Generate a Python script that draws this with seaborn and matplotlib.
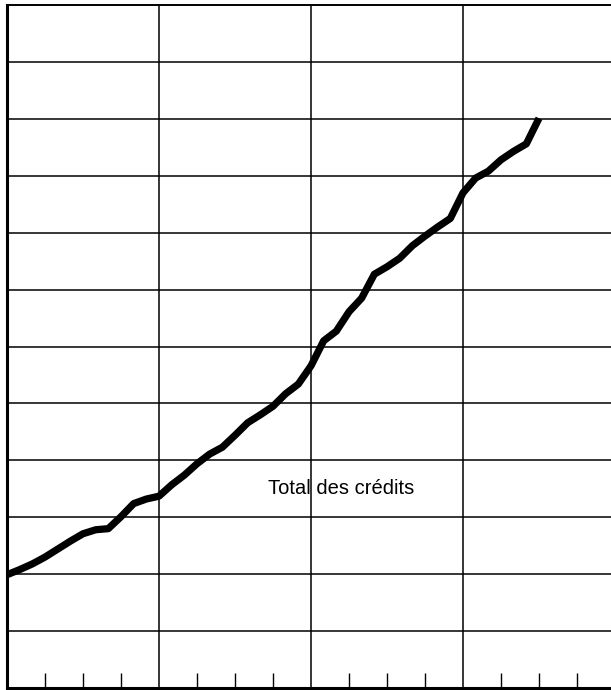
import matplotlib
matplotlib.use("Agg")
import matplotlib.pyplot as plt
import seaborn as sns
import pandas as pd
import numpy as np

# Monthly index (months from start) and total credit level (grid units)
months = list(range(0, 43))
total_credits = [1.99, 2.08, 2.18, 2.30, 2.44, 2.58, 2.71, 2.78, 2.80, 3.01,
                 3.24, 3.32, 3.37, 3.57, 3.74, 3.94, 4.11, 4.23, 4.44, 4.66,
                 4.80, 4.95, 5.17, 5.34, 5.66, 6.10, 6.27, 6.61, 6.85, 7.27,
                 7.40, 7.55, 7.77, 7.94, 8.10, 8.25, 8.70, 8.96, 9.08, 9.28,
                 9.43, 9.56, 10.01]
year_lines = [0, 12, 24, 36, 48]
quarter_ticks = [3, 6, 9, 15, 18, 21, 27, 30, 33, 39, 42, 45]
value_lines = list(range(0, 13))
label_text = "Total des crédits"

sns.set_style("white")
plt.rcParams['font.family'] = ['Liberation Sans', 'DejaVu Sans']

W, H = 611, 690
fig = plt.figure(figsize=(W / 100, H / 100), dpi=100)
left, right, top, bottom = 7, 615, 5, 688
ax = fig.add_axes([left / W, (H - bottom) / H, (right - left) / W, (bottom - top) / H])

df = pd.DataFrame({"mois": months, "credits": total_credits})
sns.lineplot(data=df, x="mois", y="credits", ax=ax, color="black",
             linewidth=5.2, solid_joinstyle="round", solid_capstyle="butt", zorder=5)

ax.set_xlim(0, 48)
ax.set_ylim(0, 12)
for xv in year_lines[1:-1]:
    ax.axvline(xv, color="black", linewidth=1.1, zorder=1)
for yv in value_lines[1:-1]:
    ax.axhline(yv, color="black", linewidth=1.1, zorder=1)

ax.set_xticks(quarter_ticks)
ax.set_xticklabels([])
ax.set_yticks([])
ax.tick_params(axis="x", direction="in", length=11, width=1.0, color="black",
               bottom=True, top=False)
ax.set_xlabel("")
ax.set_ylabel("")

for s in ["left", "bottom"]:
    ax.spines[s].set_visible(True)
    ax.spines[s].set_color("black")
    ax.spines[s].set_linewidth(2.2)
ax.spines["top"].set_visible(True)
ax.spines["top"].set_color("black")
ax.spines["top"].set_linewidth(1.4)
ax.spines["right"].set_visible(False)

ax.text(26.4, 3.41, label_text, ha="center", va="baseline", fontsize=14.5,
        color="black", zorder=6)

fig.savefig("out.png", dpi=100)
